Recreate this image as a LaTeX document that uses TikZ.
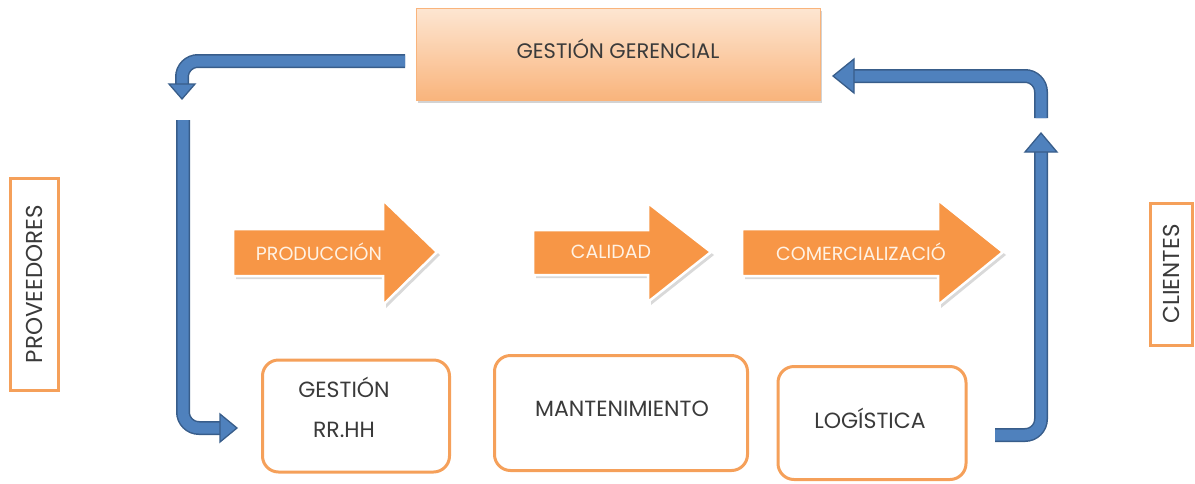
\documentclass[tikz,border=0pt]{standalone}
\usepackage{fontspec}
\setmainfont{Poppins}
\usetikzlibrary{shadows,calc}

\definecolor{orfill}{HTML}{F79646}
\definecolor{oredge}{HTML}{F5A05A}
\definecolor{blfill}{HTML}{4F81BD}
\definecolor{bledge}{HTML}{385D8A}
\definecolor{txt}{HTML}{3A3A3A}
\definecolor{cream}{HTML}{FFF2E4}
\definecolor{peachtop}{HTML}{FDE6D2}
\definecolor{peachbot}{HTML}{F9B47C}

\tikzset{
  blueshaft/.style={line width=14pt, draw=bledge, rounded corners=16pt},
  blueinner/.style={line width=11pt, draw=blfill, rounded corners=16pt},
  bluehead/.style={fill=blfill, draw=bledge, line width=1.3pt, line join=miter},
  orangearrow/.style={fill=orfill, draw=white, line width=2.5pt, line join=miter,
    drop shadow={shadow xshift=3pt, shadow yshift=-3pt, opacity=0.3}},
  arrowlabel/.style={text=cream, font=\fontsize{19}{22}\selectfont},
  roundbox/.style={draw=oredge, line width=3pt, rounded corners=16pt, fill=white},
  boxtext/.style={text=txt, font=\fontsize{22}{26}\selectfont},
  sidebox/.style={draw=oredge, line width=3pt, fill=white, rotate=90, text=txt,
    font=\fontsize{23}{26}\selectfont, inner sep=0pt}
}

\begin{document}
\begin{tikzpicture}[x=1pt,y=-1pt]
\useasboundingbox (0,0) rectangle (1195,483);

% top box
\node[draw=peachbot, line width=1pt, top color=peachtop, bottom color=peachbot,
  minimum width=404pt, minimum height=92pt,
  drop shadow={shadow xshift=2pt, shadow yshift=-3pt, opacity=0.35}]
  (gerencia) at (618,54) {};
\node[boxtext, font=\fontsize{21}{24}\selectfont] (gertxt) at (618,49) {GESTIÓN GERENCIAL};

% side boxes
\node[sidebox, minimum width=212pt, minimum height=48pt] (prov) at (34,284) {PROVEEDORES};
\node[sidebox, minimum width=142pt, minimum height=42pt] (cli) at (1171,274) {CLIENTES};

% blue arrows
\coordinate (b1) at (405,61);
\coordinate (b2) at (182,61);
\coordinate (b3) at (182,86);
\draw[blueshaft] (b1) -- (b2) -- (b3);
\draw[blueinner] (b1) -- (b2) -- (b3);
\draw[bluehead] ($(b3)+(-13,-2)$) -- ($(b3)+(13,-2)$) -- ($(b3)+(0,13)$) -- cycle;

\coordinate (c1) at (183,120);
\coordinate (c2) at (183,428);
\coordinate (c3) at (221,428);
\draw[blueshaft] (c1) -- (c2) -- (c3);
\draw[blueinner] (c1) -- (c2) -- (c3);
\draw[bluehead] ($(c3)+(-1,-14)$) -- ($(c3)+(-1,14)$) -- ($(c3)+(16,0)$) -- cycle;

\coordinate (d1) at (995,435);
\coordinate (d2) at (1041,435);
\coordinate (d3) at (1041,151);
\draw[blueshaft] (d1) -- (d2) -- (d3);
\draw[blueinner] (d1) -- (d2) -- (d3);
\draw[bluehead] ($(d3)+(-16,1)$) -- ($(d3)+(16,1)$) -- ($(d3)+(0,-18)$) -- cycle;

\coordinate (e1) at (1041,118);
\coordinate (e2) at (1041,76);
\coordinate (e3) at (853,76);
\draw[blueshaft] (e1) -- (e2) -- (e3);
\draw[blueinner] (e1) -- (e2) -- (e3);
\draw[bluehead] ($(e3)+(1,-17)$) -- ($(e3)+(1,17)$) -- ($(e3)+(-20,0)$) -- cycle;

% orange process arrows
\draw[orangearrow] (233,229) -- (383,229) -- (383,200) -- (437,252) -- (383,305)
  -- (383,276) -- (233,276) -- cycle;
\draw[orangearrow] (533,230) -- (648,230) -- (648,203) -- (711,252) -- (648,302)
  -- (648,275) -- (533,275) -- cycle;
\draw[orangearrow] (742,229) -- (938,229) -- (938,200) -- (1003,252) -- (938,305)
  -- (938,276) -- (742,276) -- cycle;
\node[arrowlabel] (prod) at (319,252) {PRODUCCIÓN};
\node[arrowlabel] (cal) at (611,252) {CALIDAD};
\node[arrowlabel] (com) at (861,252) {COMERCIALIZACIÓ};

% bottom boxes
\node[roundbox, minimum width=187pt, minimum height=112pt] (rrhh) at (356,416) {};
\node[boxtext] (rrhh1) at (344,387) {GESTIÓN};
\node[boxtext] (rrhh2) at (344,430) {RR.HH};
\node[roundbox, minimum width=253pt, minimum height=115pt] (mant) at (621,413) {};
\node[boxtext] (manttxt) at (622,409) {MANTENIMIENTO};
\node[roundbox, minimum width=188pt, minimum height=113pt] (logi) at (872,423) {};
\node[boxtext] (logitxt) at (870,418) {LOGÍSTICA};

\end{tikzpicture}
\end{document}
